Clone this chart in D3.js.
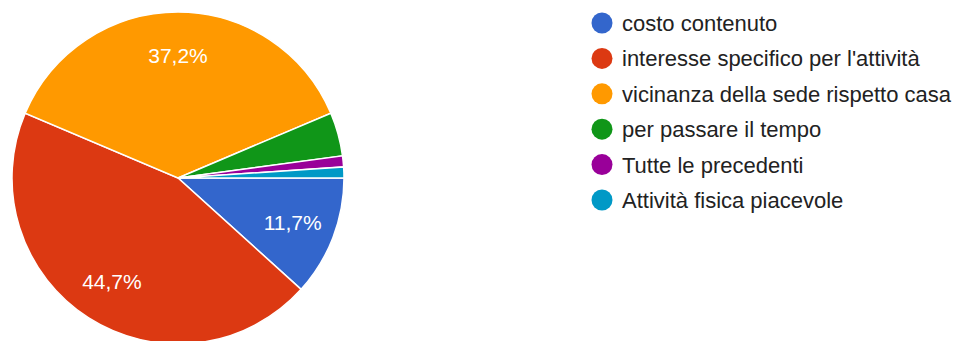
<!DOCTYPE html>
<html>
<head>
<meta charset="utf-8">
<script src="https://cdn.jsdelivr.net/npm/d3@7"></script>
<style>
  html, body { margin: 0; padding: 0; background: #fff; }
  svg { display: block; font-family: "Liberation Sans", Arial, sans-serif; }
</style>
</head>
<body>
<svg id="chart" width="960" height="341"></svg>
<script>
// Survey answers: why people chose the activity (94 responses)
const categories = [
  "costo contenuto",
  "interesse specifico per l'attività",
  "vicinanza della sede rispetto casa",
  "per passare il tempo",
  "Tutte le precedenti",
  "Attività fisica piacevole"
];
const counts = [11, 42, 35, 4, 1, 1];
const colors = ["#3366cc", "#dc3912", "#ff9900", "#109618", "#990099", "#0099c6"];

const data = categories.map((name, i) => ({ name, value: counts[i], color: colors[i] }));
const total = d3.sum(counts);

const svg = d3.select("#chart");
const cx = 178, cy = 178, radius = 166;

// Slices run clockwise starting from the 3 o'clock position
const pie = d3.pie()
  .value(d => d.value)
  .sort(null)
  .startAngle(Math.PI / 2)
  .endAngle(Math.PI / 2 + 2 * Math.PI);

const arc = d3.arc().innerRadius(0).outerRadius(radius);
const labelArc = d3.arc().innerRadius(radius * 0.74).outerRadius(radius * 0.74);

const g = svg.append("g").attr("transform", `translate(${cx},${cy})`);
const arcs = pie(data);

g.selectAll("path.slice")
  .data(arcs)
  .join("path")
  .attr("class", "slice")
  .attr("d", arc)
  .attr("fill", d => d.data.color)
  .attr("stroke", "#fff")
  .attr("stroke-width", 1.5);

// Percentage labels on slices large enough to hold them
const fmt = v => (v * 100).toFixed(1).replace(".", ",") + "%";
g.selectAll("text.pct")
  .data(arcs.filter(d => d.data.value / total > 0.08))
  .join("text")
  .attr("class", "pct")
  .attr("transform", d => `translate(${labelArc.centroid(d)})`)
  .attr("text-anchor", "middle")
  .attr("dy", "0.36em")
  .attr("fill", "#fff")
  .attr("font-size", 21)
  .text(d => fmt(d.data.value / total));

// Legend
const legendY = d3.scalePoint()
  .domain(categories)
  .range([23, 200]);

const legend = svg.append("g");
const item = legend.selectAll("g.item")
  .data(data)
  .join("g")
  .attr("class", "item")
  .attr("transform", d => `translate(0,${legendY(d.name)})`);

item.append("circle")
  .attr("cx", 602)
  .attr("cy", 0)
  .attr("r", 10.5)
  .attr("fill", d => d.color);

item.append("text")
  .attr("x", 622)
  .attr("dy", "0.36em")
  .attr("fill", "#222")
  .attr("font-size", 22)
  .text(d => d.name);
</script>
</body>
</html>
